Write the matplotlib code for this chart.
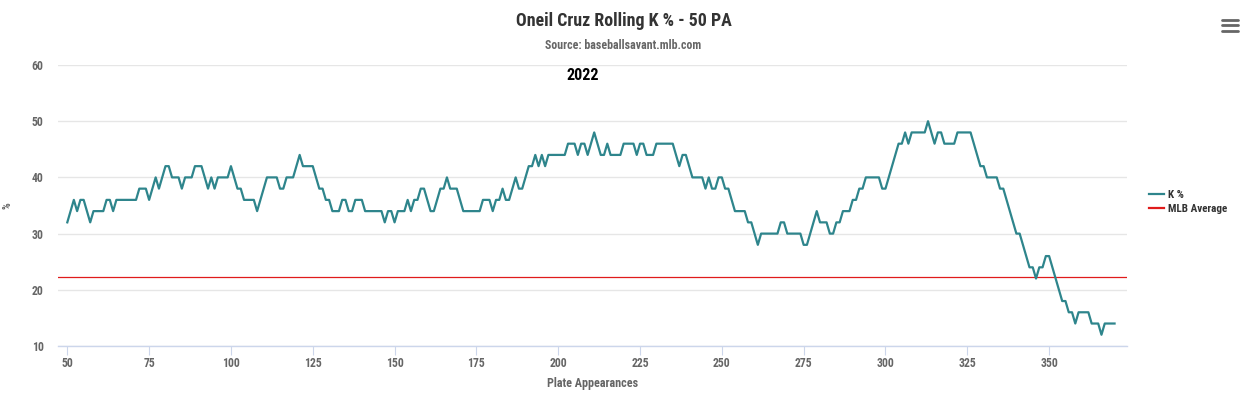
import matplotlib
matplotlib.use('Agg')
import matplotlib.pyplot as plt
from matplotlib import font_manager
from matplotlib.lines import Line2D

# ---------------- data ----------------
plate_appearances = list(range(50, 371))
k_pct = [
    32, 34, 36, 34, 36, 36, 34, 32, 34, 34,   # 50-59
    34, 34, 36, 36, 34, 36, 36, 36, 36, 36,   # 60-69
    36, 36, 38, 38, 38, 36, 38, 40, 38, 40,   # 70-79
    42, 42, 40, 40, 40, 38, 40, 40, 40, 42,   # 80-89
    42, 42, 40, 38, 40, 38, 40, 40, 40, 40,   # 90-99
    42, 40, 38, 38, 36, 36, 36, 36, 34, 36,   # 100-109
    38, 40, 40, 40, 40, 38, 38, 40, 40, 40,   # 110-119
    42, 44, 42, 42, 42, 42, 40, 38, 38, 36,   # 120-129
    36, 34, 34, 34, 36, 36, 34, 34, 36, 36,   # 130-139
    36, 34, 34, 34, 34, 34, 34, 32, 34, 34,   # 140-149
    32, 34, 34, 34, 36, 34, 36, 36, 38, 38,   # 150-159
    36, 34, 34, 36, 38, 38, 40, 38, 38, 38,   # 160-169
    36, 34, 34, 34, 34, 34, 34, 36, 36, 36,   # 170-179
    34, 36, 36, 38, 36, 36, 38, 40, 38, 38,   # 180-189
    40, 42, 42, 44, 42, 44, 42, 44, 44, 44,   # 190-199
    44, 44, 44, 46, 46, 46, 44, 46, 46, 44,   # 200-209
    46, 48, 46, 44, 44, 46, 44, 44, 44, 44,   # 210-219
    46, 46, 46, 46, 44, 46, 46, 44, 44, 44,   # 220-229
    46, 46, 46, 46, 46, 46, 44, 42, 44, 44,   # 230-239
    42, 40, 40, 40, 40, 38, 40, 38, 38, 40,   # 240-249
    40, 38, 38, 36, 34, 34, 34, 34, 32, 32,   # 250-259
    30, 28, 30, 30, 30, 30, 30, 30, 32, 32,   # 260-269
    30, 30, 30, 30, 30, 28, 28, 30, 32, 34,   # 270-279
    32, 32, 32, 30, 30, 32, 32, 34, 34, 34,   # 280-289
    36, 36, 38, 38, 40, 40, 40, 40, 40, 38,   # 290-299
    38, 40, 42, 44, 46, 46, 48, 46, 48, 48,   # 300-309
    48, 48, 48, 50, 48, 46, 48, 48, 46, 46,   # 310-319
    46, 46, 48, 48, 48, 48, 48, 46, 44, 42,   # 320-329
    42, 40, 40, 40, 40, 38, 38, 36, 34, 32,   # 330-339
    30, 30, 28, 26, 24, 24, 22, 24, 24, 26,   # 340-349
    26, 24, 22, 20, 18, 18, 16, 16, 14, 16,   # 350-359
    16, 16, 16, 14, 14, 14, 12, 14, 14, 14,   # 360-369
    14,                                       # 370
]
mlb_average = 22.2
x_ticks = [50, 75, 100, 125, 150, 175, 200, 225, 250, 275, 300, 325, 350]
y_ticks = [10, 20, 30, 40, 50, 60]
series_names = ['K %', 'MLB Average']
title_text = 'Oneil Cruz Rolling K % - 50 PA'
subtitle_text = 'Source: baseballsavant.mlb.com'
season_label = '2022'
x_label = 'Plate Appearances'
y_label = '%'

# ---------------- style ----------------
avail = {f.name for f in font_manager.fontManager.ttflist}
family = 'DejaVu Sans'
for cand in ['Roboto Condensed', 'Liberation Sans Narrow', 'Roboto', 'Liberation Sans']:
    if cand in avail:
        family = cand
        break
plt.rcParams['font.family'] = [family, 'DejaVu Sans']

TEAL = '#2e858c'
RED = '#e01b1b'
W, H = 1249, 400
fig = plt.figure(figsize=(W / 100, H / 100), dpi=100)
fig.patch.set_facecolor('white')

left, right, top, bottom = 58.3, 1127, 65, 346
ax = fig.add_axes([left / W, 1 - bottom / H, (right - left) / W, (bottom - top) / H])

ax.plot(plate_appearances, k_pct, color=TEAL, lw=1.6, solid_joinstyle='round', zorder=3)
ax.axhline(mlb_average, color=RED, lw=0.9, zorder=2)

ax.set_xlim(47.25, 373.8)
ax.set_ylim(10, 60)
ax.set_xticks(x_ticks)
ax.set_yticks(y_ticks)
ax.grid(axis='y', color='#e6e6e6', lw=1.0)
ax.set_axisbelow(True)
for s in ['top', 'right', 'left']:
    ax.spines[s].set_visible(False)
ax.spines['bottom'].set_color('#ccd6eb')
ax.spines['bottom'].set_linewidth(1.0)
ax.spines['bottom'].set_zorder(1)
ax.tick_params(axis='x', length=6.5, width=0.8, color='#ccd6eb', pad=1.5,
               labelsize=8.5, labelcolor='#666666')
ax.tick_params(axis='y', length=0, pad=10.5, labelsize=8.5, labelcolor='#666666')
for lab in ax.get_xticklabels() + ax.get_yticklabels():
    lab.set_fontweight('bold')

ax.set_xlabel(x_label, fontsize=8.7, fontweight='bold', color='#666666', labelpad=5)
ax.set_ylabel(y_label, fontsize=7.5, fontweight='bold', color='#666666', labelpad=14)

cx = 623.5 / W
fig.text(cx, 1 - 21 / H, title_text, ha='center', va='center',
         fontsize=12.9, fontweight='bold', color='#333333')
fig.text(cx, 1 - 45.5 / H, subtitle_text, ha='center', va='center',
         fontsize=8.6, fontweight='bold', color='#666666')
ax.text(207.4, 58.2, season_label, ha='center', va='center',
        fontsize=11.6, fontweight='bold', color='black')

handles = [Line2D([], [], color=TEAL, lw=1.6), Line2D([], [], color=RED, lw=1.6)]
leg = fig.legend(handles, series_names, loc='center left',
                 bbox_to_anchor=(1141 / W, 1 - 201.7 / H), frameon=False,
                 prop={'size': 8.0, 'weight': 'bold'}, handlelength=1.35,
                 handletextpad=0.4, labelspacing=0.38, borderpad=0.2)
for t in leg.get_texts():
    t.set_color('#333333')

# menu icon
for yy in (19.5, 25, 30.5):
    fig.add_artist(Line2D([1222 / W, 1238 / W], [1 - yy / H, 1 - yy / H],
                          color='#666666', lw=2.0, solid_capstyle='round'))

fig.savefig('out.png', dpi=100, facecolor='white')
